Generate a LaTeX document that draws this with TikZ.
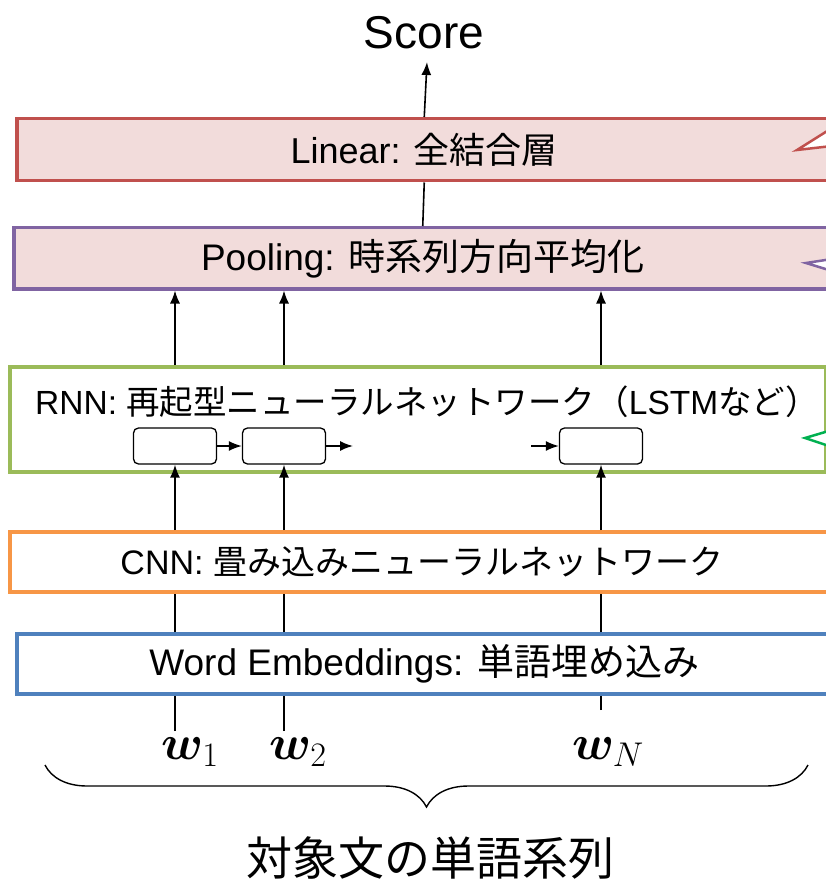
\RequirePackage{fix-cm}
\documentclass[tikz,border=0pt]{standalone}
\usepackage{fontspec}
\usepackage{amsmath,bm}
\setmainfont{Liberation Sans}
\newfontfamily\jp{Noto Sans CJK JP}
\usetikzlibrary{arrows.meta,decorations.pathreplacing}
\definecolor{cRed}{HTML}{C0504D}
\definecolor{cPink}{HTML}{F2DCDB}
\definecolor{cPurple}{HTML}{8064A2}
\definecolor{cGreen}{HTML}{9BBB59}
\definecolor{cOrange}{HTML}{F79646}
\definecolor{cBlue}{HTML}{4F81BD}
\definecolor{cTail}{HTML}{00B050}
\begin{document}
\begin{tikzpicture}[x=1pt,y=-1pt,
  layer/.style={draw, line width=3.5pt, inner sep=0pt, anchor=north west},
  cell/.style={draw, line width=1.3pt, rounded corners=5pt, minimum width=83pt,
     minimum height=36pt, inner sep=0pt, fill=white},
  arr/.style={line width=1.6pt, -{Latex[length=13pt,width=10pt]}},
  plain/.style={line width=1.6pt},
  wlab/.style={font=\fontsize{49}{52}\selectfont, inner sep=4pt},
  tail/.style={line width=2.5pt, fill=white}
]
\useasboundingbox (0,0) rectangle (826,885);
\clip (0,0) rectangle (826,885);

% layers
\node[layer, draw=cRed, fill=cPink, minimum width=815pt, minimum height=62pt, font=\fontsize{36}{40}\selectfont] (lin) at (15,117) {Linear: {\jp 全結合層}};
\node[layer, draw=cPurple, fill=cPink, minimum width=818pt, minimum height=61pt, font=\fontsize{37}{40}\selectfont] (pool) at (12,226) {Pooling: {\jp 時系列方向平均化}};
\node[layer, draw=cGreen, fill=white, minimum width=816pt, minimum height=105pt] (rnn) at (8,365) {};
\node[anchor=west, inner sep=0pt, font=\fontsize{33.5}{40}\selectfont] (rnnt) at (35,402) {RNN: {\jp 再起型ニューラルネットワーク（}LSTM{\jp など）}};
\node[layer, draw=cOrange, fill=white, minimum width=824pt, minimum height=60pt, font=\fontsize{34}{40}\selectfont] (cnn) at (8,530) {CNN: {\jp 畳み込みニューラルネットワーク}};
\node[layer, draw=cBlue, fill=white, minimum width=815pt, minimum height=60pt, font=\fontsize{37}{40}\selectfont] (emb) at (15,632) {Word Embeddings: {\jp 単語埋め込み}};

% callout tails (cut off at the right edge)
\filldraw[tail, draw=cRed] (797,150) -- (832,128) -- (832,146) -- cycle;
\filldraw[tail, draw=cPurple] (806,263) -- (832,259) -- (832,271) -- cycle;
\filldraw[tail, draw=cTail] (805,438) -- (832,430) -- (832,447) -- cycle;

% columns
\coordinate (c1) at (175,0);
\coordinate (c2) at (284,0);
\coordinate (c3) at (601,0);

% RNN cells
\node[cell] (cell1) at (175,446) {};
\node[cell] (cell2) at (284,446) {};
\node[cell] (cell3) at (601,446) {};
\coordinate (out2) at (353,446);
\coordinate (in3) at (531,446);
\draw[arr] (cell1.east) -- (cell2.west);
\draw[arr] (cell2.east) -- (out2);
\draw[arr] (in3) -- (cell3.west);

% score
\node[inner sep=0pt, font=\fontsize{46}{50}\selectfont] (score) at (424,33) {Score};
\coordinate (sTop) at (427,62);
\draw[arr] (lin.north) -- (sTop);
\draw[plain] (pool.north) -- (lin.south);

% RNN -> Pooling
\foreach \c in {c1,c2,c3}{
  \draw[arr] (\c |- rnn.north) -- (\c |- pool.south);
}
% CNN -> cells
\draw[arr] (c1 |- cnn.north) -- (cell1.south);
\draw[arr] (c2 |- cnn.north) -- (cell2.south);
\draw[arr] (c3 |- cnn.north) -- (cell3.south);
% Emb -> CNN
\foreach \c in {c1,c2,c3}{
  \draw[plain] (\c |- emb.north) -- (\c |- cnn.south);
}
% words
\node[wlab] (w1) at (190,752) {$\bm{w}_1$};
\node[wlab] (w2) at (298,752) {$\bm{w}_2$};
\node[wlab] (wN) at (608,752) {$\bm{w}_N$};
\coordinate (w1top) at (175,731);
\coordinate (w2top) at (284,731);
\coordinate (wNtop) at (601,710);
\draw[plain] (w1top) -- (c1 |- emb.south);
\draw[plain] (w2top) -- (c2 |- emb.south);
\draw[plain] (wNtop) -- (c3 |- emb.south);

% brace
\coordinate (bl) at (45,765);
\coordinate (br) at (808,765);
\draw[line width=1.4pt, decorate, decoration={brace, mirror, amplitude=42pt}] (bl) -- (br);
\node[inner sep=0pt, font=\fontsize{46}{50}\jp] (sent) at (430,858) {対象文の単語系列};
\end{tikzpicture}
\end{document}
